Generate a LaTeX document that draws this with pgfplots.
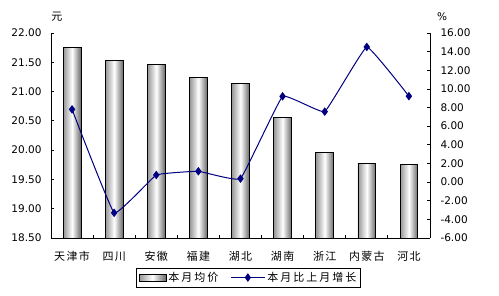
\documentclass[border=0pt]{standalone}
\usepackage{pgfplots}
\pgfplotsset{compat=1.18}
\usepackage{fontspec}
\setmainfont{DejaVu Sans}
\newfontfamily\cjk{Noto Sans CJK SC}
\newfontfamily\cjkwide[LetterSpace=12]{Noto Sans CJK SC}
\newfontfamily\cjkleg[LetterSpace=18]{Noto Sans CJK SC}
\definecolor{navyline}{RGB}{0,0,128}
\definecolor{barL}{RGB}{150,150,150}
\definecolor{barR}{RGB}{105,105,105}
\tikzset{cylbar/.style={draw=black, line width=0.8pt, left color=barL, right color=barR, middle color=white}}
\pgfplotsset{onebar/.style={ybar, bar width=17.7pt, bar shift=0pt, cylbar, forget plot}}
\begin{document}
\begin{tikzpicture}
\path[use as bounding box] (-51pt,-58pt) rectangle (448pt,238pt);
\begin{axis}[
  at={(0pt,0pt)}, anchor=south west,
  scale only axis, width=379pt, height=205pt,
  xmin=-0.5, xmax=8.5, ymin=18.5, ymax=22,
  axis x line*=bottom, axis y line*=left,
  axis line style={-, black, line width=0.8pt},
  xtick={0,1,2,3,4,5,6,7,8},
  xticklabels={天津市,四川,安徽,福建,湖北,湖南,浙江,内蒙古,河北},
  major x tick style={draw=none},
  minor xtick={0.5,1.5,2.5,3.5,4.5,5.5,6.5,7.5},
  minor x tick style={black, line width=0.8pt},
  minor tick length=3pt,
  ytick={18.5,19,19.5,20,20.5,21,21.5,22},
  major y tick style={black, line width=0.8pt},
  major tick length=3pt,
  tick align=inside,
  x tick label style={font=\cjkwide\fontsize{11}{13}\selectfont, anchor=north, yshift=-10pt},
  y tick label style={font=\fontsize{10.5}{12}\selectfont, xshift=-6pt},
  yticklabel style={/pgf/number format/.cd, fixed, fixed zerofill, precision=2, assume math mode=true},
]
\addplot[onebar] coordinates {(0,21.76)};
\addplot[onebar] coordinates {(1,21.53)};
\addplot[onebar] coordinates {(2,21.46)};
\addplot[onebar] coordinates {(3,21.24)};
\addplot[onebar] coordinates {(4,21.14)};
\addplot[onebar] coordinates {(5,20.56)};
\addplot[onebar] coordinates {(6,19.96)};
\addplot[onebar] coordinates {(7,19.78)};
\addplot[onebar] coordinates {(8,19.76)};
\end{axis}
\begin{axis}[
  at={(0pt,0pt)}, anchor=south west,
  scale only axis, width=379pt, height=205pt,
  xmin=-0.5, xmax=8.5, ymin=-6, ymax=16,
  axis x line=none, axis y line*=right,
  axis line style={-, black, line width=0.8pt},
  ytick={-6,-4,-2,0,2,4,6,8,10,12,14,16},
  major y tick style={black, line width=0.8pt},
  major tick length=3pt,
  tick align=inside,
  y tick label style={font=\fontsize{10.5}{12}\selectfont, xshift=7pt},
  yticklabel style={/pgf/number format/.cd, fixed, fixed zerofill, precision=2, assume math mode=true},
  legend columns=2,
  legend style={at={(0.521,-0.193)}, anchor=center, draw=black, line width=0.8pt, fill=white,
    font=\cjkleg\fontsize{11}{13}\selectfont, inner sep=2pt,
    /tikz/every even column/.append style={column sep=10pt}},
]
\addlegendimage{legend image code/.code={\draw[cylbar] (0pt,-3.5pt) rectangle (27pt,3.5pt);}}
\addlegendentry{本月均价}
\addplot[navyline, line width=1pt, mark=diamond*, mark size=3.5pt, mark options={solid, fill=navyline},
  smooth, tension=0.15,
  legend image code/.code={\draw[navyline, line width=1pt] (0pt,0pt) -- (34pt,0pt); \fill[navyline] (17pt,0pt) +(0,3.5pt) -- +(2.5pt,0) -- +(0,-3.5pt) -- +(-2.5pt,0) -- cycle;}]
  coordinates {(0,7.80) (1,-3.30) (2,0.76) (3,1.16) (4,0.37) (5,9.20) (6,7.56) (7,14.50) (8,9.22)};
\addlegendentry{本月比上月增长}
\end{axis}
\node[font=\cjk\fontsize{11}{13}\selectfont] at (6pt,221pt) {元};
\node[font=\fontsize{10.5}{12}\selectfont] at (391pt,221pt) {\%};
\end{tikzpicture}
\end{document}
